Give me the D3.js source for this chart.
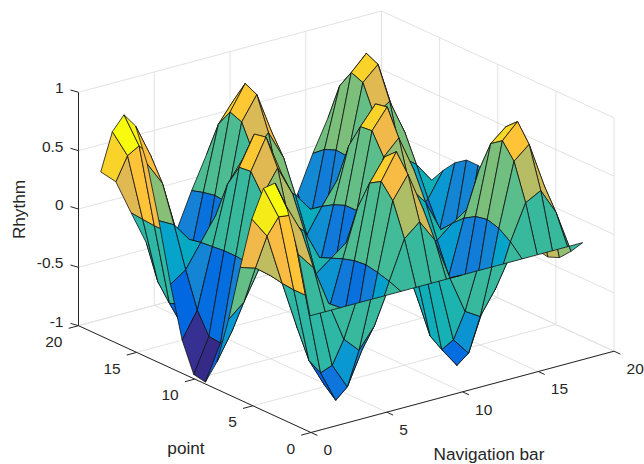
<!DOCTYPE html>
<html>
<head>
<meta charset="utf-8">
<style>
	body { margin: 0; background: white; }
	svg { display: block; font-family: "Liberation Sans", Arial, sans-serif; }
	text { fill: #262626; }
</style>
<script src="https://cdn.jsdelivr.net/npm/d3@7"></script>
</head>
<body>
<svg id="chart" width="644" height="464"></svg>
<script>
// surface heights, one row per point (0..18), one column per navigation bar (0..18)
const navigationBar = d3.range(0, 19)
const point = d3.range(0, 19)
const rhythm = [
	[0, 0, 0, 0, 0, 0, 0, 0, 0, 0, 0, 0, 0, 0, 0, 0, 0, 0, 0],
	[.48, .33, -.01, -.35, -.48, -.31, .04, .37, .48, .29, -.07, -.39, -.47, -.27, .10, .40, .47, .25, -.12],
	[.84, .59, -.02, -.62, -.84, -.55, .07, .65, .84, .51, -.12, -.68, -.83, -.47, .17, .71, .82, .43, -.22],
	[1.00, .69, -.03, -.73, -1.00, -.65, .09, .77, .99, .61, -.15, -.81, -.98, -.56, .20, .84, .97, .51, -.26],
	[.91, .63, -.03, -.67, -.91, -.59, .08, .71, .90, .55, -.13, -.74, -.89, -.51, .18, .77, .88, .47, -.24],
	[.60, .42, -.02, -.44, -.60, -.39, .05, .46, .59, .36, -.09, -.49, -.59, -.34, .12, .50, .58, .31, -.16],
	[.14, .10, 0, -.10, -.14, -.09, .01, .11, .14, .09, -.02, -.11, -.14, -.08, .03, .12, .14, .07, -.04],
	[-.35, -.24, .01, .26, .35, .23, -.03, -.27, -.35, -.21, .05, .28, .35, .20, -.07, -.30, -.34, -.18, .09],
	[-.76, -.53, .02, .56, .76, .50, -.07, -.59, -.75, -.46, .11, .61, .74, .43, -.15, -.64, -.74, -.39, .20],
	[-.98, -.68, .03, .72, .98, .64, -.09, -.76, -.97, -.60, .14, .79, .96, .55, -.20, -.83, -.95, -.50, .25],
	[-.96, -.67, .03, .71, .96, .63, -.08, -.74, -.95, -.58, .14, .78, .94, .54, -.19, -.81, -.93, -.49, .25],
	[-.71, -.49, .02, .52, .70, .46, -.06, -.55, -.70, -.43, .10, .57, .69, .40, -.14, -.60, -.69, -.36, .18],
	[-.28, -.19, .01, .21, .28, .18, -.02, -.22, -.28, -.17, .04, .23, .27, .16, -.06, -.24, -.27, -.14, .07],
	[.22, .15, -.01, -.16, -.21, -.14, .02, .17, .21, .13, -.03, -.17, -.21, -.12, .04, .18, .21, .11, -.06],
	[.66, .46, -.02, -.48, -.66, -.43, .06, .51, .65, .40, -.10, -.53, -.65, -.37, .13, .55, .64, .34, -.17],
	[.94, .65, -.03, -.69, -.94, -.61, .08, .73, .93, .57, -.14, -.76, -.92, -.53, .19, .79, .91, .48, -.24],
	[.99, .69, -.03, -.73, -.99, -.65, .09, .77, .98, .60, -.14, -.80, -.97, -.56, .20, .83, .96, .51, -.26],
	[.80, .56, -.02, -.59, -.80, -.52, .07, .62, .79, .49, -.12, -.65, -.79, -.45, .16, .67, .78, .41, -.21],
	[.41, .29, -.01, -.30, -.41, -.27, .04, .32, .41, .25, -.06, -.33, -.41, -.23, .08, .35, .40, .21, -.11]
]
const xTicks = [0, 5, 10, 15, 20]
const yTicks = [0, 5, 10, 15, 20]
const zTicks = [-1, -0.5, 0, 0.5, 1]

const parula = [
	[.2081, .1663, .5292], [.2116, .1898, .5777], [.2123, .2138, .6270], [.2081, .2386, .6771],
	[.1959, .2645, .7279], [.1707, .2919, .7792], [.1253, .3242, .8303], [.0591, .3598, .8683],
	[.0117, .3875, .8820], [.0060, .4086, .8828], [.0165, .4266, .8786], [.0329, .4430, .8720],
	[.0498, .4586, .8641], [.0629, .4737, .8554], [.0723, .4887, .8467], [.0779, .5040, .8384],
	[.0793, .5200, .8312], [.0749, .5375, .8263], [.0641, .5570, .8240], [.0488, .5772, .8228],
	[.0343, .5966, .8199], [.0265, .6137, .8135], [.0239, .6287, .8038], [.0231, .6418, .7913],
	[.0228, .6535, .7768], [.0267, .6642, .7607], [.0384, .6743, .7436], [.0590, .6838, .7254],
	[.0843, .6928, .7062], [.1133, .7015, .6859], [.1453, .7098, .6646], [.1801, .7177, .6424],
	[.2178, .7250, .6193], [.2586, .7317, .5954], [.3022, .7376, .5712], [.3482, .7424, .5473],
	[.3953, .7459, .5244], [.4420, .7481, .5033], [.4871, .7491, .4840], [.5300, .7491, .4661],
	[.5709, .7485, .4494], [.6099, .7473, .4337], [.6473, .7456, .4188], [.6834, .7435, .4044],
	[.7184, .7411, .3905], [.7525, .7384, .3768], [.7858, .7356, .3633], [.8185, .7327, .3498],
	[.8507, .7299, .3360], [.8824, .7274, .3217], [.9139, .7258, .3063], [.9450, .7261, .2886],
	[.9739, .7314, .2666], [.9938, .7455, .2403], [.9990, .7653, .2164], [.9955, .7861, .1967],
	[.9880, .8066, .1794], [.9789, .8271, .1633], [.9697, .8481, .1475], [.9626, .8705, .1309],
	[.9589, .8949, .1132], [.9598, .9218, .0948], [.9661, .9514, .0755], [.9763, .9831, .0538]
]

let svg = d3.select("#chart")

// oblique projection of the plot box, each axis contributes its own screen offset
let xToX = d3.scaleLinear().domain([0, 20]).range([0, 303])
let xToY = d3.scaleLinear().domain([0, 20]).range([0, -81.3])
let yToX = d3.scaleLinear().domain([0, 20]).range([0, -232.5])
let yToY = d3.scaleLinear().domain([0, 20]).range([0, -106.8])
let zToY = d3.scaleLinear().domain([-1, 1]).range([0, -233.4])

function project(x, y, z) {
	return [311 + xToX(x) + yToX(y), 432.5 + xToY(x) + yToY(y) + zToY(z)]
}

let color = d3.scaleQuantize()
	.domain(d3.extent(rhythm.flat()))
	.range(parula.map(c => d3.rgb(c[0] * 255, c[1] * 255, c[2] * 255).formatHex()))

let line = d3.line()

function drawGrid() {
	let grid = svg.append("g")
		.attr("fill", "none")
		.attr("stroke", "#e2e2e2")
		.attr("stroke-width", 1)
	let seg = (a, b) => grid.append("path").attr("d", line([project(...a), project(...b)]))

	xTicks.forEach(x => {
		seg([x, 0, -1], [x, 20, -1])
		seg([x, 20, -1], [x, 20, 1])
	})
	yTicks.forEach(y => {
		seg([0, y, -1], [20, y, -1])
		seg([20, y, -1], [20, y, 1])
	})
	zTicks.forEach(z => {
		seg([0, 20, z], [20, 20, z])
		seg([20, 20, z], [20, 0, z])
	})
}

function drawAxes() {
	let axes = svg.append("g")
		.attr("fill", "none")
		.attr("stroke", "#262626")
		.attr("stroke-width", 1)
	let seg = (a, b) => axes.append("path").attr("d", line([project(...a), project(...b)]))

	seg([0, 0, -1], [20, 0, -1])
	seg([0, 0, -1], [0, 20, -1])
	seg([0, 20, -1], [0, 20, 1])

	xTicks.forEach(x => seg([x, 0, -1], [x, -0.55, -1]))
	yTicks.forEach(y => seg([0, y, -1], [-0.65, y, -1]))
	zTicks.forEach(z => seg([0, 20, z], [-0.12, 20.53, z]))

	let labels = svg.append("g").attr("font-size", 15.5)

	labels.selectAll(".xlabel").data(xTicks).enter().append("text")
		.attr("x", d => project(d, 0, -1)[0] + 12.6)
		.attr("y", d => project(d, 0, -1)[1] + 17.5)
		.attr("dy", "0.35em")
		.text(d => d)

	labels.selectAll(".ylabel").data(yTicks).enter().append("text")
		.attr("x", d => project(0, d, -1)[0] - 16)
		.attr("y", d => project(0, d, -1)[1] + 15.8)
		.attr("dy", "0.35em")
		.attr("text-anchor", "end")
		.text(d => d)

	labels.selectAll(".zlabel").data(zTicks).enter().append("text")
		.attr("x", d => project(0, 20, d)[0] - 15)
		.attr("y", d => project(0, 20, d)[1] - 4.4)
		.attr("dy", "0.35em")
		.attr("text-anchor", "end")
		.text(d => d)

	svg.append("text").attr("x", 489).attr("y", 454).attr("dy", "0.35em")
		.attr("font-size", 17.2).attr("text-anchor", "middle").text("Navigation bar")
	svg.append("text").attr("x", 186).attr("y", 448).attr("dy", "0.35em")
		.attr("font-size", 17.2).attr("text-anchor", "middle").text("point")
	svg.append("text").attr("transform", "translate(18.5,209.5) rotate(-90)").attr("dy", "0.35em")
		.attr("font-size", 17.2).attr("text-anchor", "middle").text("Rhythm")
}

function drawSurface() {
	// the far corner of the grid is painted first, so nearer faces cover it
	let faces = []
	d3.range(point.length - 2, -1, -1).forEach(j => {
		d3.range(navigationBar.length - 2, -1, -1).forEach(i => {
			faces.push({i, j})
		})
	})

	svg.append("g")
		.attr("transform", "translate(-1,0)")
		.selectAll("path")
		.data(faces)
		.enter()
		.append("path")
		.attr("d", ({i, j}) => line([
			project(navigationBar[i], point[j], rhythm[j][i]),
			project(navigationBar[i + 1], point[j], rhythm[j][i + 1]),
			project(navigationBar[i + 1], point[j + 1], rhythm[j + 1][i + 1]),
			project(navigationBar[i], point[j + 1], rhythm[j + 1][i])
		]) + "Z")
		.attr("fill", ({i, j}) => color(rhythm[j][i]))
		.attr("stroke", "#111")
		.attr("stroke-width", 0.8)
		.attr("stroke-linejoin", "round")
}

drawGrid()
drawAxes()
drawSurface()
</script>
</body>
</html>
